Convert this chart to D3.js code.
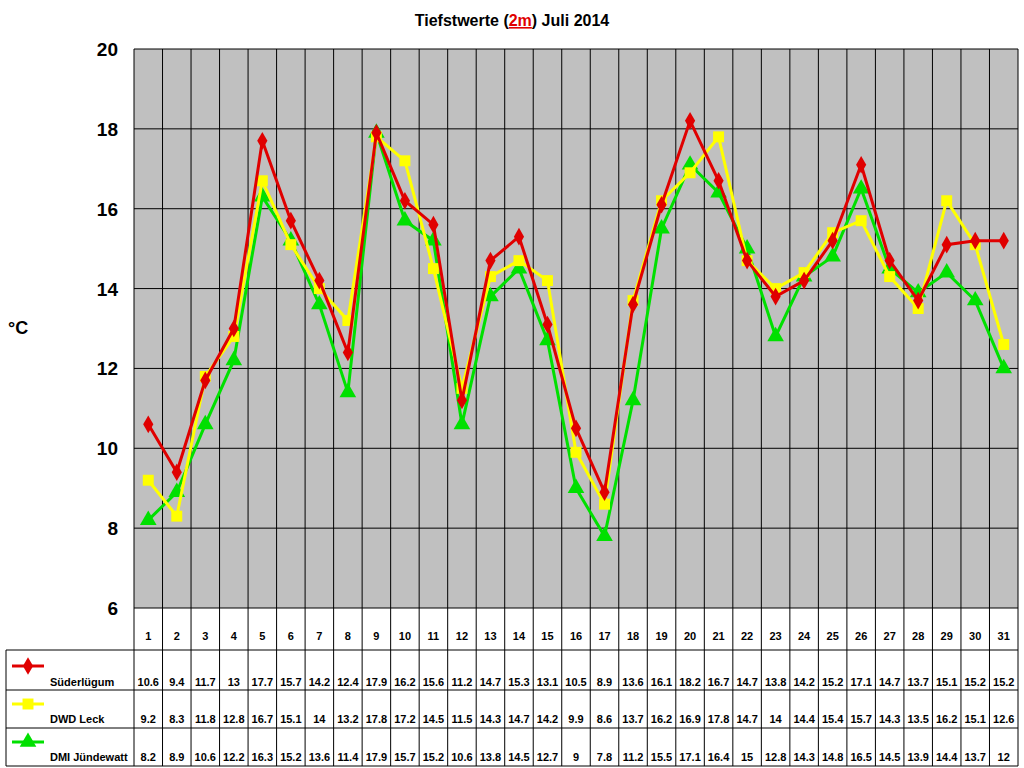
<!DOCTYPE html><html><head><meta charset="utf-8">
<script src="https://cdn.jsdelivr.net/npm/d3@7"></script>
<style>body{margin:0;background:#fff}svg{font-family:"Liberation Sans",Arial,sans-serif;font-weight:bold}</style></head><body>
<svg id="c" width="1024" height="768"></svg>
<script>
const days = d3.range(1,32);
const suederluegum = [10.6,9.4,11.7,13,17.7,15.7,14.2,12.4,17.9,16.2,15.6,11.2,14.7,15.3,13.1,10.5,8.9,13.6,16.1,18.2,16.7,14.7,13.8,14.2,15.2,17.1,14.7,13.7,15.1,15.2,15.2];
const dwdLeck = [9.2,8.3,11.8,12.8,16.7,15.1,14,13.2,17.8,17.2,14.5,11.5,14.3,14.7,14.2,9.9,8.6,13.7,16.2,16.9,17.8,14.7,14,14.4,15.4,15.7,14.3,13.5,16.2,15.1,12.6];
const dmiJuendewatt = [8.2,8.9,10.6,12.2,16.3,15.2,13.6,11.4,17.9,15.7,15.2,10.6,13.8,14.5,12.7,9,7.8,11.2,15.5,17.1,16.4,15,12.8,14.3,14.8,16.5,14.5,13.9,14.4,13.7,12];
const yTicks = [6,8,10,12,14,16,18,20];
const series = [
 {name:"Süderlügum", values:suederluegum, color:"#e00000", shape:"diamond"},
 {name:"DWD Leck", values:dwdLeck, color:"#ffff00", shape:"square"},
 {name:"DMI Jündewatt", values:dmiJuendewatt, color:"#00e000", shape:"triangle"}
];
const svg = d3.select("#c");
const L=134,R=1018,T=49,B=608;
const x = d3.scaleBand().domain(days).range([L,R]);
const y = d3.scaleLinear().domain([6,20]).range([B,T]);
svg.append("rect").attr("x",L).attr("y",T).attr("width",R-L).attr("height",B-T).attr("fill","#c0c0c0");
const rows=[650,690,728,766];
const g = svg.append("g").attr("stroke","#000").attr("stroke-width",1);
yTicks.forEach(t=>g.append("line").attr("x1",L).attr("x2",R).attr("y1",y(t)).attr("y2",y(t)));
days.forEach(d=>g.append("line").attr("x1",x(d)).attr("x2",x(d)).attr("y1",T).attr("y2",766));
g.append("line").attr("x1",R).attr("x2",R).attr("y1",T).attr("y2",766);
rows.forEach(r=>g.append("line").attr("x1",6).attr("x2",R).attr("y1",r).attr("y2",r));
g.append("line").attr("x1",6).attr("x2",6).attr("y1",650).attr("y2",766);
svg.selectAll(".yt").data(yTicks).enter().append("text").attr("x",L-16).attr("y",d=>y(d)+7)
 .attr("text-anchor","end").attr("font-size",19).text(d=>d);
svg.append("text").attr("x",8).attr("y",334).attr("font-size",18).text("°C");
svg.selectAll(".dl").data(days).enter().append("text").attr("x",d=>x(d)+x.bandwidth()/2).attr("y",640)
 .attr("text-anchor","middle").attr("font-size",11).text(d=>d);
const t=svg.append("text").attr("x",512).attr("y",26).attr("text-anchor","middle").attr("font-size",16);
t.append("tspan").text("Tiefstwerte (");
t.append("tspan").attr("fill","#e00000").attr("text-decoration","underline").text("2m");
t.append("tspan").text(") Juli 2014");
const sym={diamond:d3.symbolDiamond,square:d3.symbolSquare,triangle:d3.symbolTriangle};
const sz={diamond:90,square:120,triangle:120};
const line=d3.line().x((v,i)=>x(days[i])+x.bandwidth()/2).y(v=>y(v));
series.slice().reverse().forEach(s=>{
 svg.append("path").attr("d",line(s.values)).attr("fill","none").attr("stroke",s.color).attr("stroke-width",3);
 svg.selectAll(null).data(s.values).enter().append("path")
  .attr("d",d3.symbol().type(sym[s.shape]).size(sz[s.shape]))
  .attr("transform",(v,i)=>`translate(${x(days[i])+x.bandwidth()/2},${y(v)})`).attr("fill",s.color);
});
const symY=[666,704,742], txtY=[686,723,761];
series.forEach((s,k)=>{
 svg.append("line").attr("x1",12).attr("x2",44).attr("y1",symY[k]).attr("y2",symY[k]).attr("stroke",s.color).attr("stroke-width",3);
 svg.append("path").attr("d",d3.symbol().type(sym[s.shape]).size(sz[s.shape])).attr("transform",`translate(28,${symY[k]})`).attr("fill",s.color);
 svg.append("text").attr("x",50).attr("y",txtY[k]).attr("font-size",11).text(s.name);
 svg.selectAll(null).data(s.values).enter().append("text").attr("x",(v,i)=>x(days[i])+x.bandwidth()/2).attr("y",txtY[k])
  .attr("text-anchor","middle").attr("font-size",11).text(v=>v);
});
</script></body></html>
